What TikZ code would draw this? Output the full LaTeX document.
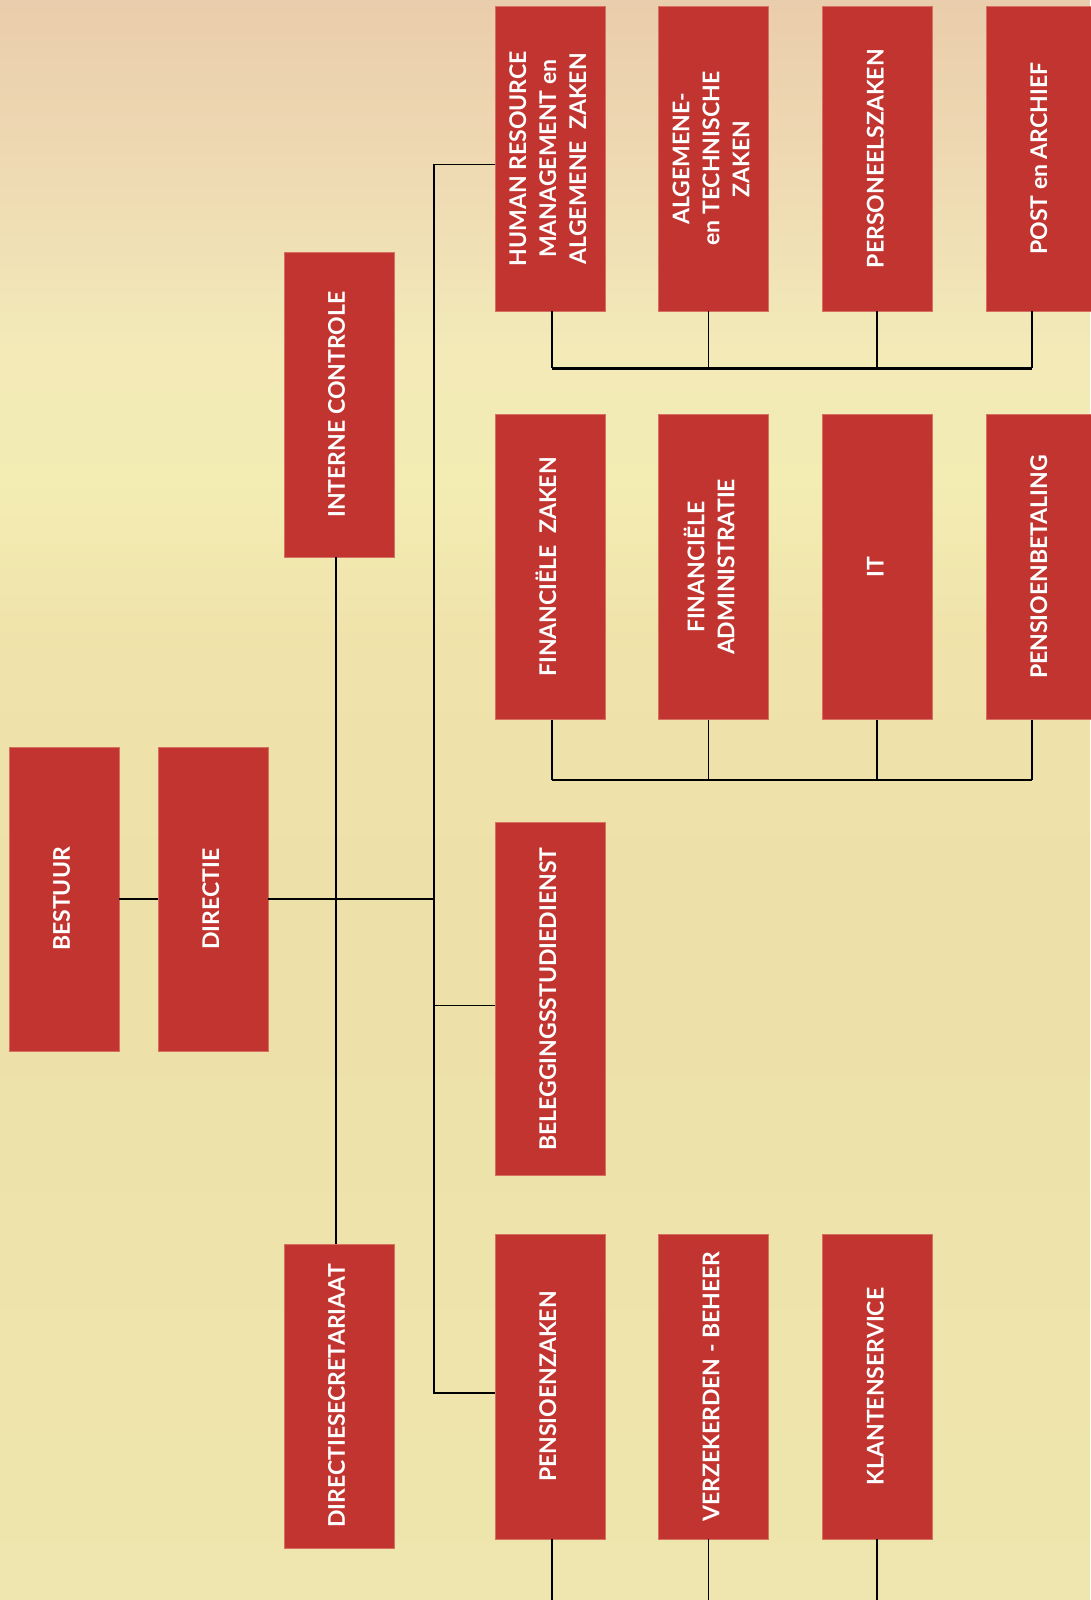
\documentclass[tikz,border=0pt]{standalone}
\usepackage{graphicx}
\usepackage{fontspec}
\setmainfont{Lato}
\definecolor{boxred}{RGB}{193,52,47}
\definecolor{boxedge}{RGB}{214,112,96}
\definecolor{bgA}{RGB}{234,205,172}
\definecolor{bgB}{RGB}{239,220,180}
\definecolor{bgC}{RGB}{243,234,184}
\definecolor{bgD}{RGB}{243,236,178}
\definecolor{bgE}{RGB}{239,226,170}
\definecolor{bgF}{RGB}{237,224,168}
\definecolor{bgG}{RGB}{238,230,174}
\pgfdeclareverticalshading{skybg}{100bp}{color(0bp)=(bgG); color(25bp)=(bgG); color(46.9bp)=(bgF); color(54.7bp)=(bgE); color(59.4bp)=(bgD); color(64.06bp)=(bgC); color(68.75bp)=(bgB); color(75bp)=(bgA); color(100bp)=(bgA)}
\newcommand\rotlab[1]{\rotatebox{90}{\begin{tabular}{@{}c@{}}#1\end{tabular}}}
\begin{document}
\begin{tikzpicture}[x=1pt,y=-1pt,
  box/.style={fill=boxred,draw=boxedge,line width=0.5pt,inner sep=0pt,minimum width=110pt,text=white,font=\bfseries\fontsize{23}{30}\selectfont},
  link/.style={line width=1.6pt,draw=black},
  bar/.style={line width=2.4pt,draw=black}]
\useasboundingbox (0,0) rectangle (1090,1600);
\shade[shading=skybg] (0,0) rectangle (1090,1600);
% nodes
\node[box,minimum height=304pt] (bestuur) at (63.8,899) {\rotlab{BESTUUR}};
\node[box,minimum height=304pt] (directie) at (213.2,899) {\rotlab{DIRECTIE}};
\node[box,minimum height=305pt] (intern) at (338.9,404.5) {\rotlab{INTERNE CONTROLE}};
\node[box,minimum height=304pt] (dirsec) at (338.9,1396) {\rotlab{DIRECTIESECRETARIAAT}};
% row 1
\node[box,minimum height=305pt] (hr) at (550,158.7) {\rotlab{HUMAN RESOURCE\\MANAGEMENT en\\ALGEMENE\ \ ZAKEN}};
\node[box,minimum height=305pt] (algtech) at (713.3,158.7) {\rotlab{ALGEMENE-\\en TECHNISCHE\\ZAKEN}};
\node[box,minimum height=305pt] (perso) at (877.7,158.7) {\rotlab{PERSONEELSZAKEN}};
\node[box,minimum height=305pt] (post) at (1041,158.7) {\rotlab{POST en ARCHIEF}};
% row 2
\node[box,minimum height=305pt] (finzak) at (550,567) {\rotlab{FINANCIËLE\ \ ZAKEN}};
\node[box,minimum height=305pt] (finadm) at (713.3,567) {\rotlab{FINANCIËLE\\ADMINISTRATIE}};
\node[box,minimum height=305pt] (it) at (877.7,567) {\rotlab{IT}};
\node[box,minimum height=305pt] (pensbet) at (1041,567) {\rotlab{PENSIOENBETALING}};
% row 3
\node[box,minimum height=353pt] (beleg) at (550,999.2) {\rotlab{BELEGGINGSSTUDIEDIENST}};
% row 4
\node[box,minimum height=305pt] (penszak) at (550,1386.5) {\rotlab{PENSIOENZAKEN}};
\node[box,minimum height=305pt] (verz) at (713.3,1386.5) {\rotlab{VERZEKERDEN - BEHEER}};
\node[box,minimum height=305pt] (klant) at (877.7,1386.5) {\rotlab{KLANTENSERVICE}};
% coordinates
\coordinate (tA) at (433.8,164.3);
\coordinate (tB) at (433.8,1393);
\coordinate (tC) at (433.8,1005.3);
\coordinate (r1) at (0,368.4);
\coordinate (r2) at (0,779.7);
\coordinate (r3) at (0,1600);
% connectors
\draw[link] (bestuur) -- (directie);
\draw[link] (directie.east) -- (directie.east -| tA);
\draw[link] ([xshift=-3pt]intern.south) -- ([xshift=-3pt]dirsec.north);
\draw[link] (tA -| hr.west) -- (tA) -- (tB) -- (tB -| penszak.west);
\draw[link] (tC) -- (tC -| beleg.west);
% bracket row 1
\draw[link] ([xshift=2pt]hr.south) -- ([xshift=2pt]hr.south |- r1);
\draw[link] ([xshift=-5pt]algtech.south) -- ([xshift=-5pt]algtech.south |- r1);
\draw[link] ([xshift=-1pt]perso.south) -- ([xshift=-1pt]perso.south |- r1);
\draw[link] ([xshift=-9pt]post.south) -- ([xshift=-9pt]post.south |- r1);
\draw[bar] ([xshift=2pt]hr.south |- r1) -- ([xshift=-9pt]post.south |- r1);
% bracket row 2
\draw[link] ([xshift=2pt]finzak.south) -- ([xshift=2pt]finzak.south |- r2);
\draw[link] ([xshift=-5pt]finadm.south) -- ([xshift=-5pt]finadm.south |- r2);
\draw[link] ([xshift=-1pt]it.south) -- ([xshift=-1pt]it.south |- r2);
\draw[link] ([xshift=-9pt]pensbet.south) -- ([xshift=-9pt]pensbet.south |- r2);
\draw[bar] ([xshift=2pt]finzak.south |- r2) -- ([xshift=-9pt]pensbet.south |- r2);
% row 4 down lines
\draw[link] ([xshift=2pt]penszak.south) -- ([xshift=2pt]penszak.south |- r3);
\draw[link] ([xshift=-5pt]verz.south) -- ([xshift=-5pt]verz.south |- r3);
\draw[link] ([xshift=-1pt]klant.south) -- ([xshift=-1pt]klant.south |- r3);
\end{tikzpicture}
\end{document}
